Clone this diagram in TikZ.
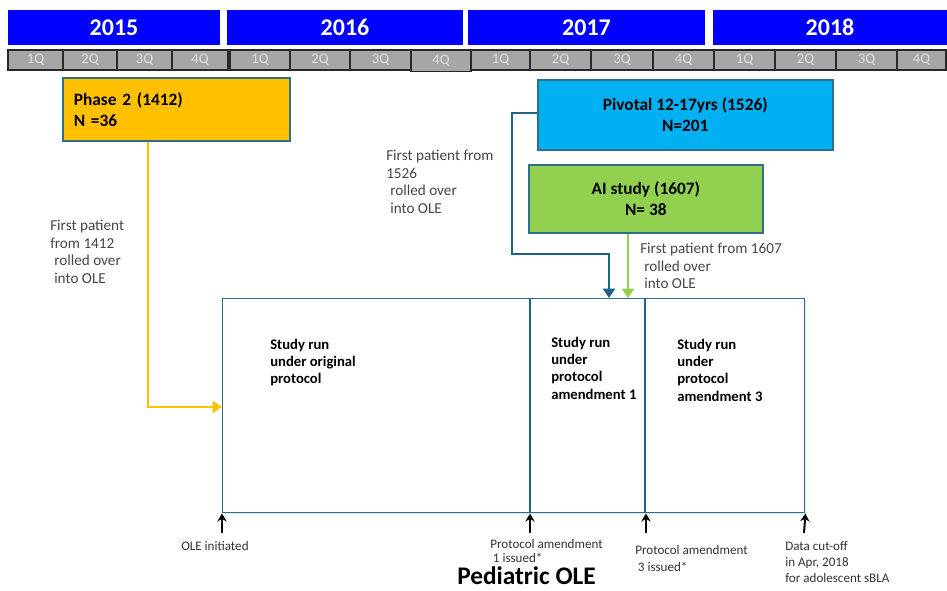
\documentclass[tikz,border=0pt]{standalone}
\usepackage{fontspec}
\setmainfont{Carlito}
\usetikzlibrary{arrows.meta,shadows}
\definecolor{yearblue}{RGB}{0,0,255}
\definecolor{qgray}{RGB}{166,166,166}
\definecolor{qtext}{RGB}{222,222,222}
\definecolor{qborder}{RGB}{40,40,40}
\definecolor{boxborder}{RGB}{47,110,140}
\definecolor{orangefill}{RGB}{255,192,0}
\definecolor{cyanfill}{RGB}{0,176,240}
\definecolor{greenfill}{RGB}{146,208,80}
\definecolor{tealline}{RGB}{31,100,130}
\definecolor{labelgray}{RGB}{70,70,70}
\begin{document}
\begin{tikzpicture}[x=0.75pt,y=-0.75pt,
  yearbar/.style={fill=yearblue, text=white, font=\fontsize{18}{20}\selectfont\bfseries, inner sep=0pt, minimum height=26.25pt},
  qcell/.style={draw=qborder, line width=1.3pt, fill=qgray, text=qtext, font=\fontsize{11}{12}\selectfont, inner sep=0pt, minimum height=15pt},
  study/.style={draw=boxborder, line width=1.2pt, inner sep=0pt, anchor=north west, font=\fontsize{13}{15.5}\selectfont\bfseries, drop shadow={opacity=0.25, shadow xshift=1.2pt, shadow yshift=-1.2pt}},
  runtext/.style={anchor=north west, inner sep=0pt, align=left, font=\fontsize{11}{13.1}\selectfont\bfseries},
  note/.style={anchor=north west, inner sep=0pt, align=left, text=labelgray, font=\fontsize{11.4}{13.3}\selectfont},
  foot/.style={anchor=north west, inner sep=0pt, align=left, text=black!80, font=\fontsize{9.8}{12}\selectfont},
  flow/.style={line width=2.2pt, -{Triangle[width=9pt,length=7pt]}},
  divider/.style={draw=tealline, line width=2pt},
  tick/.style={line width=1.5pt, -{Stealth[width=7pt,length=6pt]}}]
\useasboundingbox (0,0) rectangle (947,590);

% years
\node[yearbar, minimum width=159pt] (y2015) at (114,27.5) {2015};
\node[yearbar, minimum width=177pt] (y2016) at (345,27.5) {2016};
\node[yearbar, minimum width=177.75pt] (y2017) at (586.5,27.5) {2017};
\node[yearbar, minimum width=175.5pt] (y2018) at (830,27.5) {2018};

% quarters
\foreach \n/\l/\r/\t/\d in {1/8/63/1Q/0, 2/63/117/2Q/0, 3/117/172/3Q/0, 4/172/228/4Q/0,
  5/230/290/1Q/0, 6/290/350/2Q/0, 7/350/411/3Q/0, 8/411/471/4Q/1.5,
  9/471/530/1Q/0, 10/530/591/2Q/0, 11/591/653/3Q/0, 12/653/714/4Q/0,
  13/714/775/1Q/0, 14/775/836/2Q/0, 15/836/897/3Q/0, 16/897/946/4Q/0}
  \node[qcell, minimum width={(\r-\l)*0.75pt}, minimum height={(20+\d)*0.75pt}] (q\n) at ({(\l+\r)/2},{60+\d/2}) {\t};

% study boxes
\node[study, fill=orangefill, inner xsep=8.25pt, text width=153.75pt, minimum height=47.25pt, align=left] (p2) at (62,77) {Phase 2 (1412)\\N =36};
\node[study, fill=cyanfill, minimum width=221.25pt, minimum height=52.5pt, align=center] (piv) at (537,79) {Pivotal 12-17yrs (1526)\\N=201};
\node[study, fill=greenfill, minimum width=175.5pt, minimum height=51pt, align=center] (ai) at (528,164) {AI study (1607)\\N= 38};

% OLE box
\node[draw=boxborder, line width=1.1pt, anchor=north west, minimum width=436.5pt, minimum height=160.5pt, inner sep=0pt, drop shadow={opacity=0.2, shadow xshift=1pt, shadow yshift=-1pt}, fill=white] (ole) at (222,298) {};
\draw[divider] (ole.north -| 530,0) -- (ole.south -| 530,0);
\draw[divider] (ole.north -| 645,0) -- (ole.south -| 645,0);

\node[runtext] (r1) at (270,338.5) {Study run\\under original\\protocol};
\node[runtext] (r2) at (551,336.5) {Study run\\under\\protocol\\amendment 1};
\node[runtext] (r3) at (677,338.5) {Study run\\under\\protocol\\amendment 3};

% flows
\draw[flow, draw=orangefill] (p2.south -| 148,0) |- (ole.west |- 0,407);
\draw[flow, draw=tealline] (piv.west |- 0,113) -| (512,254) -| (ole.north -| 609,0);
\draw[flow, draw=greenfill] (ai.south -| 628,0) -- (ole.north -| 628,0);

% notes
\node[note] (n1412) at (50,219.5) {First patient\\from 1412\\\hspace*{3pt}rolled over\\\hspace*{3pt}into OLE};
\node[note] (n1526) at (386,149.5) {First patient from\\1526\\\hspace*{3pt}rolled over\\\hspace*{3pt}into OLE};
\node[note] (n1607) at (640,242.5) {First patient from 1607\\\hspace*{3pt}rolled over\\\hspace*{3pt}into OLE};

% bottom ticks
\coordinate (t1) at (222,533);
\coordinate (t2) at (530,533);
\coordinate (t3) at (646,533);
\coordinate (t4) at (804,533);
\draw[tick] (t1) -- (ole.south west);
\draw[tick] (t2) -- (ole.south -| t2);
\draw[tick] (t3) -- (ole.south -| t3);
\draw[tick] (t4) -- (ole.south east);

\node[foot] (f1) at (181,541) {OLE initiated};
\node[foot, font=\fontsize{9.8}{10.8}\selectfont] (f2) at (490,539) {Protocol amendment\\\hspace*{2pt}1 issued*};
\node[foot, font=\fontsize{9.8}{12.75}\selectfont] (f3) at (635,545) {Protocol amendment\\\hspace*{2pt}3 issued*};
\node[foot] (f4) at (785,541) {Data cut-off\\in Apr, 2018\\for adolescent sBLA};
\node[anchor=base west, inner sep=0pt, font=\fontsize{19}{22}\selectfont\bfseries] (title) at (457,584.5) {Pediatric OLE};
\end{tikzpicture}
\end{document}
